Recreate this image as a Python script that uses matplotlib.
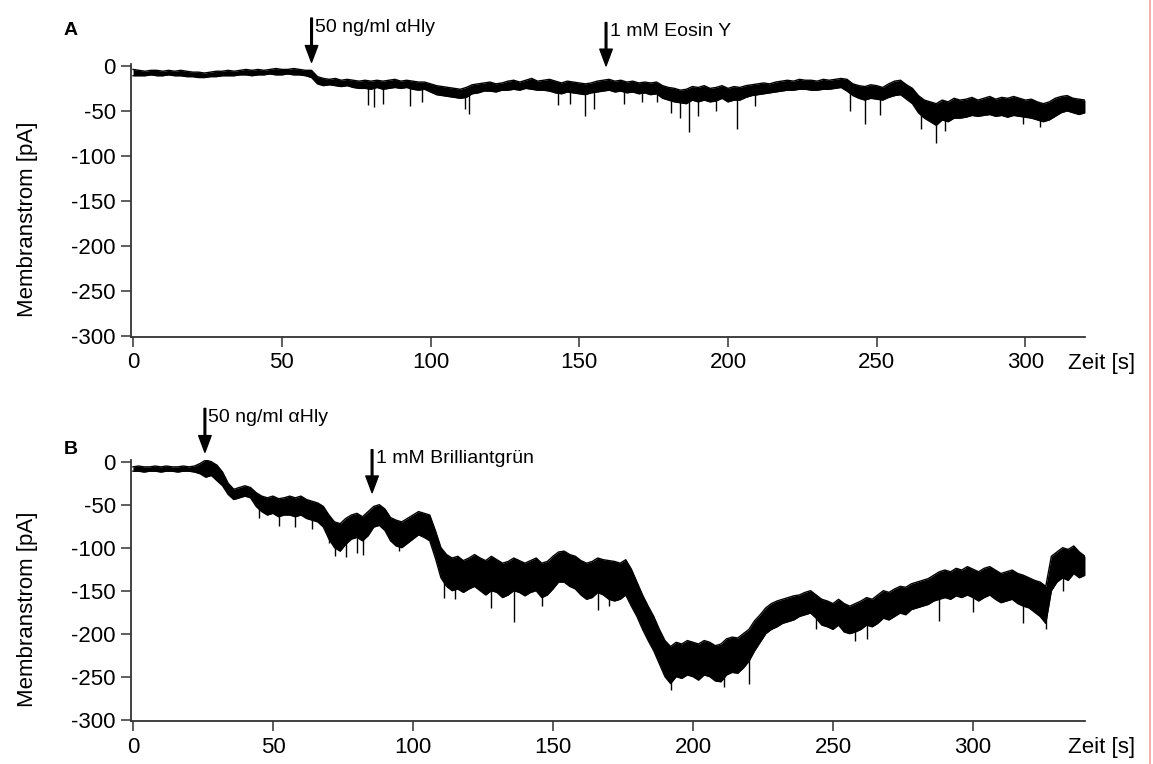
import matplotlib.pyplot as plt
from matplotlib.lines import Line2D
import numpy as np

plt.rcParams['font.family'] = ['Liberation Sans', 'DejaVu Sans']
plt.rcParams['axes.unicode_minus'] = False

# sampling step of the read-off traces [s]
STEP = 2

# panel A: upper / lower edge of the noisy trace, t = 0, 2, ..., 320 s
A_HI = [-4, -5, -6, -5, -5, -6, -5, -6, -5, -6, -7, -7, -8, -7, -6, -6, -5, -6, -5, -4,
        -5, -4, -5, -4, -3, -4, -4, -3, -4, -5,
        -5, -12, -14, -15, -14, -16, -15, -16, -17, -16, -17, -16, -17, -16, -15,
        -17, -16, -17, -18, -18, -20, -22, -23, -24, -25, -26, -24, -21, -20, -19,
        -18, -20, -19, -17, -16, -18, -16, -14, -17, -16, -15, -17, -19, -17, -18,
        -19, -20, -19, -17, -16, -15, -17, -16, -18, -17, -19, -18, -19, -18, -22,
        -24, -25, -27, -26, -23, -24, -22, -25, -24, -22, -25, -23, -24, -22, -21,
        -20, -19, -20, -18, -17, -16, -17, -15, -16, -16, -17, -15, -16, -15, -14,
        -15, -20, -22, -23, -21, -22, -24, -20, -17, -16, -21, -25, -33, -38, -40,
        -42, -38, -40, -36, -38, -37, -35, -38, -36, -34, -37, -35, -36, -34, -36,
        -38, -37, -40, -42, -40, -36, -34, -33, -36, -37, -38]
A_LO = [-11, -11, -11, -10, -11, -11, -10, -11, -11, -12, -12, -13, -13, -12, -12,
        -11, -11, -11, -10, -10, -11, -10, -10, -9, -10, -10, -9, -10, -10, -11,
        -13, -20, -22, -21, -22, -23, -22, -24, -25, -25, -26, -24, -26, -25, -24,
        -25, -24, -26, -27, -26, -29, -32, -33, -34, -35, -36, -35, -31, -30, -28,
        -28, -29, -27, -27, -26, -27, -25, -26, -27, -27, -28, -30, -31, -29, -30,
        -31, -32, -30, -29, -28, -27, -29, -28, -30, -29, -31, -30, -32, -31, -36,
        -38, -40, -41, -42, -38, -40, -38, -40, -39, -36, -40, -38, -38, -35, -33,
        -32, -31, -30, -29, -28, -27, -27, -26, -26, -27, -27, -26, -26, -25, -24,
        -28, -33, -36, -38, -36, -37, -38, -35, -33, -32, -37, -42, -52, -58, -62,
        -66, -60, -62, -58, -58, -57, -55, -56, -55, -54, -56, -55, -57, -55, -56,
        -57, -58, -60, -62, -60, -56, -52, -50, -52, -54, -52]

# panel A: single downward spikes (time, bottom, top)
SPIKE_A_T = [79, 81, 84, 93, 97, 111.5, 113, 143, 147, 152, 155, 165, 171, 176, 181,
             184, 187, 190, 196, 203, 209, 241, 246, 251, 265, 270, 273, 299, 305]
SPIKE_A_LOW = [-44, -46, -42, -45, -40, -48, -53, -44, -42, -56, -48, -42, -40, -40, -52,
               -58, -73, -56, -50, -70, -45, -50, -65, -55, -70, -86, -72, -65, -68]
SPIKE_A_TOP = [-22, -22, -22, -22, -22, -30, -30, -24, -24, -25, -24, -23, -24, -25, -30,
               -32, -33, -32, -31, -30, -26, -22, -30, -30, -45, -50, -48, -46, -50]

# panel B: t = 0, 2, ..., 340 s
B_HI = [-6, -5, -6, -6, -5, -6, -5, -6, -6, -5, -6, -5, -2, 2, 0, -4, -12, -25, -32, -30,
        -28, -30, -36, -40, -42, -40, -43, -42, -40, -42,
        -40, -44, -46, -48, -52, -62, -70, -72, -66, -62, -60, -64, -58, -52, -50,
        -55, -65, -68, -70, -66, -62, -58, -60, -62, -80, -100, -108, -112, -110, -115,
        -112, -108, -112, -115, -110, -114, -118, -116, -112, -115, -118, -115, -112, -118, -116,
        -110, -105, -104, -108, -110, -115, -118, -116, -112, -114, -115, -116, -118, -114, -125,
        -140, -155, -168, -180, -195, -208, -215, -210, -212, -208, -210, -212, -208, -210, -214,
        -212, -206, -204, -205, -200, -195, -185, -178, -170, -165, -162, -160, -158, -156, -155,
        -152, -150, -155, -160, -162, -165, -160, -165, -168, -165, -162, -158, -160, -155, -150,
        -152, -148, -145, -146, -142, -140, -138, -136, -132, -128, -126, -128, -124, -126, -122,
        -125, -128, -124, -122, -126, -130, -128, -126, -130, -132, -135, -138, -140, -145, -110,
        -105, -100, -102, -98, -105, -110]
B_LO = [-11, -11, -12, -11, -11, -12, -11, -11, -12, -11, -11, -12, -14, -18, -16, -22, -28,
        -38, -44, -42, -40, -42, -52, -58, -62, -60, -64, -62, -62, -64,
        -62, -66, -68, -70, -76, -90, -100, -104, -96, -90, -88, -92, -86, -76, -74,
        -80, -92, -98, -100, -95, -90, -85, -88, -92, -112, -135, -145, -150, -148, -152,
        -148, -145, -150, -155, -150, -152, -158, -155, -150, -152, -156, -152, -150, -158, -155,
        -148, -140, -140, -145, -148, -155, -160, -158, -152, -155, -160, -162, -160, -155, -168,
        -180, -195, -208, -220, -235, -250, -258, -250, -252, -248, -250, -254, -248, -250, -255,
        -256, -248, -245, -246, -240, -232, -220, -210, -200, -195, -192, -188, -186, -184, -180,
        -178, -176, -182, -190, -192, -195, -190, -198, -200, -198, -195, -190, -192, -188, -182,
        -184, -180, -176, -178, -172, -170, -168, -166, -162, -160, -158, -160, -156, -158, -155,
        -158, -162, -158, -155, -160, -164, -162, -160, -165, -168, -170, -175, -180, -188, -150,
        -140, -135, -138, -130, -135, -132]

SPIKE_B_T = [45, 52, 58, 64, 70, 72, 76, 80, 82, 95, 111, 115, 128, 136, 146, 166, 170,
             192, 211, 220, 244, 258, 262, 288, 300, 318, 326, 332]
SPIKE_B_LOW = [-66, -75, -76, -78, -95, -110, -111, -106, -108, -104, -158, -160, -170,
               -186, -168, -172, -168, -266, -262, -258, -195, -208, -206, -185, -175,
               -188, -195, -150]
SPIKE_B_TOP = [-45, -52, -52, -56, -75, -85, -80, -75, -78, -85, -120, -130, -130, -132,
               -135, -132, -138, -230, -230, -215, -170, -180, -178, -145, -140, -150,
               -165, -118]

# substance additions (time [s], label)
ADD_A = [(60, '50 ng/ml \u03b1Hly'), (159, '1 mM Eosin Y')]
ADD_B = [(25.7, '50 ng/ml \u03b1Hly'), (85.4, '1 mM Brilliantgr\u00fcn')]

Y_TICKS = [0, -50, -100, -150, -200, -250, -300]
X_TICKS = [0, 50, 100, 150, 200, 250, 300]

fig = plt.figure(figsize=(11.53, 7.64), dpi=100)
ax_a = fig.add_axes([0.1136, 0.5592, 0.8274, 0.3570])
ax_b = fig.add_axes([0.1136, 0.0558, 0.8274, 0.3421])


def draw_panel(ax, hi, lo, sp_t, sp_lo, sp_top, xmax, ylim):
    t = np.arange(len(hi)) * STEP
    ax.fill_between(t, lo, hi, color='black', lw=0)
    ax.plot(t, hi, color='black', lw=1.0)
    ax.plot(t, lo, color='black', lw=1.0)
    ax.vlines(sp_t, sp_lo, sp_top, color='black', lw=1.0)
    ax.set_xlim(-0.7, xmax)
    ax.set_ylim(*ylim)
    for s in ['top', 'right']:
        ax.spines[s].set_visible(False)
    for s in ['left', 'bottom']:
        ax.spines[s].set_color('#333333')
        ax.spines[s].set_linewidth(1.3)
    ax.set_xticks(X_TICKS)
    ax.set_yticks(Y_TICKS)
    ax.tick_params(direction='out', length=7.5, width=1.1, color='#333333',
                   labelsize=16, pad=3.5)
    ax.set_ylabel('Membranstrom [pA]', fontsize=16)
    ax.yaxis.set_label_coords(-0.0975, 0.43)
    ax.annotate('Zeit [s]', xy=(1, 0), xycoords='axes fraction',
                xytext=(-12, -11.5), textcoords='offset points',
                ha='left', va='top', fontsize=16)


draw_panel(ax_a, A_HI, A_LO, SPIKE_A_T, SPIKE_A_LOW, SPIKE_A_TOP, 320, (-300.5, 2))
draw_panel(ax_b, B_HI, B_LO, SPIKE_B_T, SPIKE_B_LOW, SPIKE_B_TOP, 340, (-302, 2))


def add_arrow(ax, t, label, tip, top):
    ax.annotate('', xy=(t, tip), xytext=(t, top), annotation_clip=False,
                arrowprops=dict(facecolor='black', edgecolor='black', width=1.2,
                                headwidth=9, headlength=12, shrink=0))
    ax.annotate(label, xy=(t, top), xytext=(2.5, -6.5), textcoords='offset points',
                ha='left', va='center', fontsize=14, annotation_clip=False)


add_arrow(ax_a, ADD_A[0][0], ADD_A[0][1], 4, 53)
add_arrow(ax_a, ADD_A[1][0], ADD_A[1][1], 0, 48)
add_arrow(ax_b, ADD_B[0][0], ADD_B[0][1], 11, 62)
add_arrow(ax_b, ADD_B[1][0], ADD_B[1][1], -36, 14)

fig.text(64 / 1153, 1 - 35 / 764, 'A', fontsize=14, fontweight='bold', va='baseline')
fig.text(64 / 1153, 1 - 454 / 764, 'B', fontsize=14, fontweight='bold', va='baseline')

fig.add_artist(Line2D([1150 / 1153, 1150 / 1153], [0, 1], color='#f4a0a0', lw=1.2))

fig.savefig('out.png', dpi=100)
